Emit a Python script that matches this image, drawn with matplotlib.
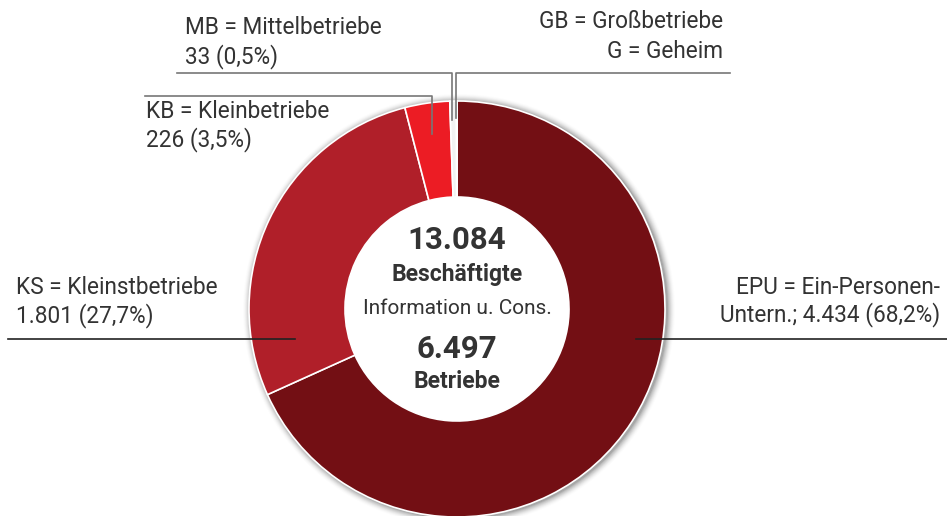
import matplotlib.pyplot as plt
from matplotlib.patches import Circle
import matplotlib
matplotlib.rcParams['font.family'] = ['Roboto', 'DejaVu Sans']

# Daten
labels = ["EPU", "KS", "KB", "MB", "GB/G"]
betriebe = [4434, 1801, 226, 33, 3]
colors = ["#730F14", "#B01F29", "#EC1C24", "#F2F2F2", "#F2F2F2"]

total_beschaeftigte = "13.084"
total_betriebe = "6.497"
branche = "Information u. Cons."

W, H = 947, 516
cx, cy = 457, H - 309
r_out, r_in = 208, 112
txt = "#333333"
lead = "#777777"

fig = plt.figure(figsize=(W / 100, H / 100), dpi=100)
ax = fig.add_axes([0, 0, 1, 1])

# leichter Schatten
for k, a in zip(range(1, 9), [0.10, 0.08, 0.06, 0.05, 0.04, 0.03, 0.02, 0.01]):
    ax.add_patch(Circle((cx + 2, cy - 1), r_out + k, color="black", alpha=a, lw=0, zorder=0))
ax.add_patch(Circle((cx, cy), r_out, color="white", lw=0, zorder=0.5))

ax.pie(betriebe, colors=colors, startangle=90, counterclock=False,
       radius=r_out, center=(cx, cy),
       wedgeprops=dict(width=r_out - r_in, edgecolor="white", linewidth=1.2))
ax.add_patch(Circle((cx, cy), r_in, color="white", lw=0, zorder=3))

ax.set_xlim(0, W)
ax.set_ylim(0, H)
ax.set_aspect("equal")
ax.axis("off")

def y(p):
    return H - p

# Mitte
ax.text(cx, y(240), total_beschaeftigte, ha="center", va="center", fontsize=22.5, fontweight="bold", color=txt, zorder=5)
ax.text(cx, y(274), "Beschäftigte", ha="center", va="center", fontsize=16.5, fontweight="bold", color=txt, zorder=5)
ax.text(cx, y(308), branche, ha="center", va="center", fontsize=15, color=txt, zorder=5)
ax.text(cx, y(349), total_betriebe, ha="center", va="center", fontsize=22.5, fontweight="bold", color=txt, zorder=5)
ax.text(cx, y(381), "Betriebe", ha="center", va="center", fontsize=16.5, fontweight="bold", color=txt, zorder=5)

fs = 16.3
# Beschriftungen
ax.text(185, y(28), "MB = Mittelbetriebe", ha="left", va="center", fontsize=fs, color=txt)
ax.text(185, y(57), "33 (0,5%)", ha="left", va="center", fontsize=fs, color=txt)
ax.plot([177, 452, 452], [y(73), y(73), y(120)], color=lead, lw=1.2, zorder=6)

ax.text(723, y(22), "GB = Großbetriebe", ha="right", va="center", fontsize=fs, color=txt)
ax.text(723, y(52), "G = Geheim", ha="right", va="center", fontsize=fs, color=txt)
ax.plot([730, 455.5, 455.5], [y(73), y(73), y(118)], color=lead, lw=1.2, zorder=6)

ax.text(146, y(111), "KB = Kleinbetriebe", ha="left", va="center", fontsize=fs, color=txt)
ax.text(146, y(140), "226 (3,5%)", ha="left", va="center", fontsize=fs, color=txt)
ax.plot([145, 432, 432], [y(96), y(96), y(134)], color=lead, lw=1.2, zorder=6)

ax.text(16, y(288), "KS = Kleinstbetriebe", ha="left", va="center", fontsize=fs, color=txt)
ax.text(16, y(316), "1.801 (27,7%)", ha="left", va="center", fontsize=fs, color=txt)
ax.plot([8, 295], [y(339), y(339)], color="#222222", lw=1.2, zorder=6)

ax.text(940, y(287), "EPU = Ein-Personen-", ha="right", va="center", fontsize=fs, color=txt)
ax.text(940, y(315), "Untern.; 4.434 (68,2%)", ha="right", va="center", fontsize=fs, color=txt)
ax.plot([636, 947], [y(339), y(339)], color="#222222", lw=1.2, zorder=6)

fig.savefig("out.png", dpi=100)
